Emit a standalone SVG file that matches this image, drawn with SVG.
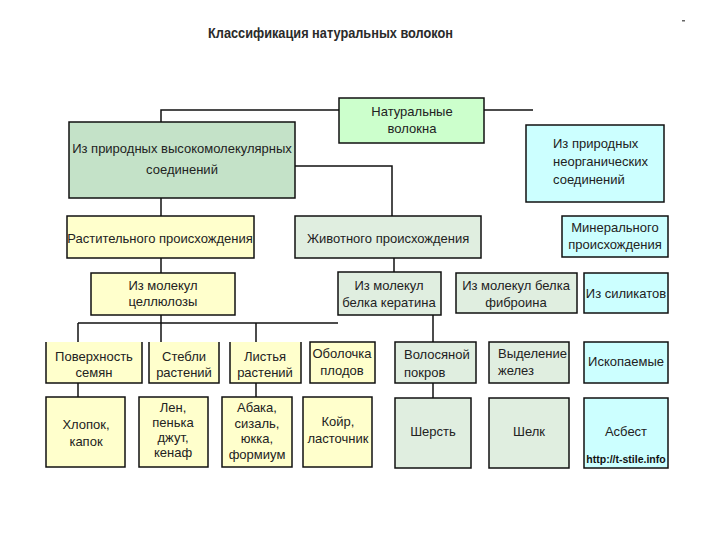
<svg xmlns="http://www.w3.org/2000/svg" width="720" height="540" viewBox="0 0 720 540">
<style>
  .b{stroke:#111;stroke-width:1.5}
  .o{fill:none;stroke:#111;stroke-width:1.5}
  .g1{fill:#ccffcc}
  .g2{fill:#c4e2c8}
  .g3{fill:#e0eee0}
  .c{fill:#ccffff}
  .y{fill:#ffffcc}
  text{font-family:"Liberation Sans",Arial,sans-serif;font-size:13px;fill:#222}
  .m{text-anchor:middle}
  .conn{fill:none;stroke:#111;stroke-width:1.5}
</style>
<rect width="720" height="540" fill="#ffffff"/>
<text x="208" y="38" textLength="245" lengthAdjust="spacingAndGlyphs" style="font-size:14px;font-weight:bold;fill:#2a2a2a">Классификация натуральных волокон</text>
<rect x="682" y="20" width="3" height="1.5" fill="#666"/>

<g id="connectors">
  <polyline class="conn" points="161,122 161,110 339,110"/>
  <line class="conn" x1="484" y1="110" x2="533" y2="110"/>
  <polyline class="conn" points="295,166 392,166 392,216"/>
  <line class="conn" x1="161" y1="198" x2="161" y2="216"/>
  <line class="conn" x1="161" y1="258" x2="161" y2="273"/>
  <line class="conn" x1="161" y1="315" x2="161" y2="342"/>
  <line class="conn" x1="78" y1="323" x2="338" y2="323"/>
  <line class="conn" x1="78" y1="323" x2="78" y2="342"/>
  <line class="conn" x1="256" y1="323" x2="256" y2="342"/>
  <line class="conn" x1="78" y1="383" x2="78" y2="397"/>
  <line class="conn" x1="256" y1="383" x2="256" y2="397"/>
  <line class="conn" x1="394" y1="258" x2="394" y2="272"/>
  <line class="conn" x1="433" y1="315" x2="433" y2="342"/>
  <line class="conn" x1="433" y1="383" x2="433" y2="398"/>
</g>

<g id="natural">
  <rect class="b g1" x="339" y="98" width="145" height="45"/>
  <text class="m" x="412" y="116">Натуральные</text>
  <text class="m" x="412" y="133">волокна</text>
</g>
<g id="highmol">
  <rect class="b g2" x="69" y="122" width="226" height="76"/>
  <text class="m" x="182" y="153">Из природных высокомолекулярных</text>
  <text class="m" x="182" y="174">соединений</text>
</g>
<g id="inorganic">
  <rect class="b c" x="526" y="125" width="138" height="77"/>
  <text x="553" y="148">Из природных</text>
  <text x="553" y="166">неорганических</text>
  <text x="553" y="184">соединений</text>
</g>
<g id="plant">
  <rect class="b y" x="67" y="216" width="187" height="42"/>
  <text class="m" x="160" y="243">Растительного происхождения</text>
</g>
<g id="animal">
  <rect class="b g3" x="295" y="216" width="186" height="42"/>
  <text x="307" y="243">Животного происхождения</text>
</g>
<g id="mineral">
  <rect class="b c" x="562" y="216" width="106" height="41"/>
  <text class="m" x="615" y="232">Минерального</text>
  <text class="m" x="615" y="249">происхождения</text>
</g>
<g id="cellulose">
  <rect class="b y" x="91" y="273" width="144" height="42"/>
  <text class="m" x="163" y="290">Из молекул</text>
  <text class="m" x="163" y="306">целлюлозы</text>
</g>
<g id="keratin">
  <rect class="b g3" x="338" y="272" width="103" height="43"/>
  <text class="m" x="389" y="290">Из молекул</text>
  <text class="m" x="389" y="307">белка кератина</text>
</g>
<g id="fibroin">
  <rect class="b g3" x="456" y="273" width="121" height="40"/>
  <text class="m" x="516" y="290">Из молекул белка</text>
  <text class="m" x="516" y="307">фиброина</text>
</g>
<g id="silicates">
  <rect class="b c" x="584" y="273" width="84" height="40"/>
  <text class="m" x="626" y="298">Из силикатов</text>
</g>

<g id="seeds">
  <rect class="y" x="46" y="342" width="96" height="41"/>
  <polyline class="o" points="46,342 46,383 142,383 142,342"/>
  <text class="m" x="94" y="361">Поверхность</text>
  <text class="m" x="94" y="377">семян</text>
</g>
<g id="stems">
  <rect class="y" x="149" y="342" width="70" height="41"/>
  <polyline class="o" points="149,342 149,383 219,383 219,342"/>
  <text class="m" x="184" y="361">Стебли</text>
  <text class="m" x="184" y="377">растений</text>
</g>
<g id="leaves">
  <rect class="y" x="230" y="342" width="71" height="41"/>
  <polyline class="o" points="230,342 230,383 301,383 301,342"/>
  <text class="m" x="265" y="361">Листья</text>
  <text class="m" x="265" y="377">растений</text>
</g>
<g id="fruit">
  <rect class="b y" x="310" y="342" width="65" height="41"/>
  <text class="m" x="342" y="358">Оболочка</text>
  <text class="m" x="342" y="375">плодов</text>
</g>
<g id="hair">
  <rect class="b g3" x="395" y="342" width="81" height="41"/>
  <text x="404" y="359">Волосяной</text>
  <text x="404" y="377">покров</text>
</g>
<g id="glands">
  <rect class="b g3" x="489" y="342" width="80" height="41"/>
  <text x="498" y="358">Выделение</text>
  <text x="498" y="375">желез</text>
</g>
<g id="fossil">
  <rect class="b c" x="584" y="342" width="84" height="41"/>
  <text class="m" x="626" y="366">Ископаемые</text>
</g>

<g id="cotton">
  <rect class="b y" x="46" y="397" width="79" height="70"/>
  <text class="m" x="86" y="429">Хлопок,</text>
  <text class="m" x="86" y="446">капок</text>
</g>
<g id="flax">
  <rect class="b y" x="139" y="397" width="69" height="70"/>
  <text class="m" x="173" y="412">Лен,</text>
  <text class="m" x="173" y="427">пенька</text>
  <text class="m" x="173" y="442">джут,</text>
  <text class="m" x="173" y="457">кенаф</text>
</g>
<g id="abaca">
  <rect class="b y" x="222" y="397" width="70" height="70"/>
  <text class="m" x="257" y="412">Абака,</text>
  <text class="m" x="257" y="428">сизаль,</text>
  <text class="m" x="257" y="443">юкка,</text>
  <text class="m" x="257" y="459">формиум</text>
</g>
<g id="coir">
  <rect class="b y" x="303" y="397" width="69" height="70"/>
  <text class="m" x="338" y="426">Койр,</text>
  <text class="m" x="338" y="443">ласточник</text>
</g>
<g id="wool">
  <rect class="b g3" x="395" y="398" width="76" height="70"/>
  <text class="m" x="433" y="436">Шерсть</text>
</g>
<g id="silk">
  <rect class="b g3" x="489" y="398" width="80" height="70"/>
  <text class="m" x="529" y="436">Шелк</text>
</g>
<g id="asbestos">
  <rect class="b c" x="584" y="398" width="84" height="70"/>
  <text class="m" x="626" y="436">Асбест</text>
  <text class="m" x="626" y="463" style="font-size:10.5px;font-weight:bold;fill:#111">http://t-stile.info</text>
</g>
</svg>
